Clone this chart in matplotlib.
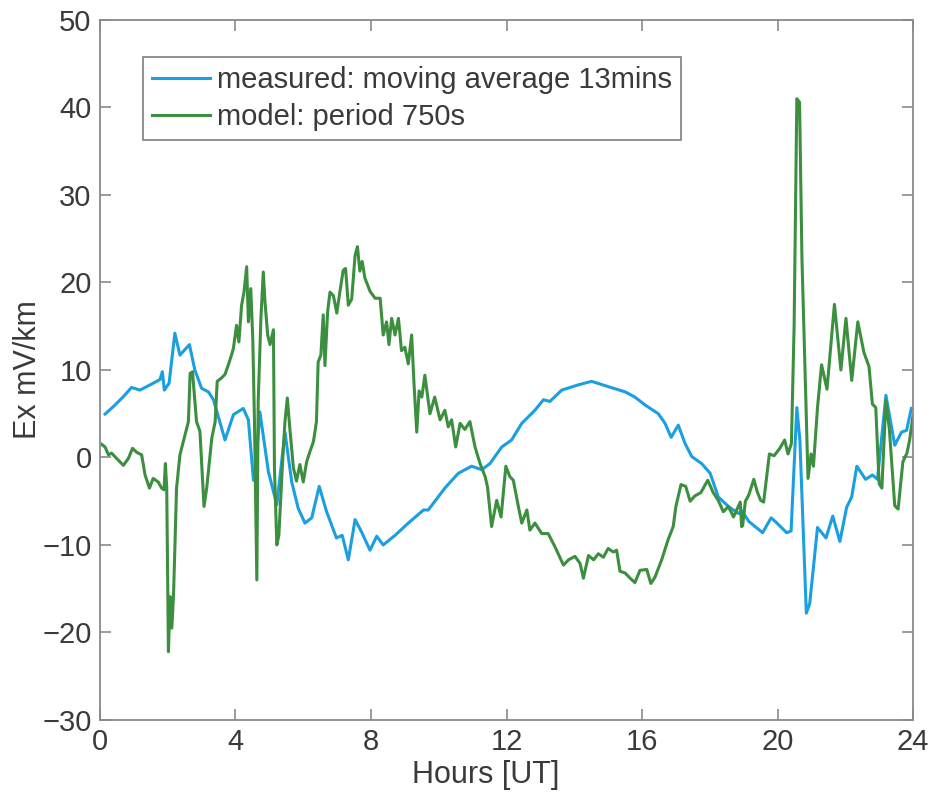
import matplotlib
matplotlib.use('Agg')
import matplotlib.pyplot as plt
import numpy as np

plt.rcParams['font.family'] = ['Liberation Sans', 'DejaVu Sans']

# measured field, moving average over 13 min
meas_hours = [0.15, 0.39, 0.69, 0.93, 1.18, 1.48, 1.77, 1.84, 1.90, 2.04,
              2.21, 2.36, 2.64, 2.80, 3.00, 3.20, 3.35, 3.69, 3.94, 4.23,
              4.38, 4.53, 4.60, 4.72, 4.97, 5.22, 5.46, 5.66, 5.85, 6.05,
              6.25, 6.47, 6.69, 6.98, 7.15, 7.33, 7.53, 7.72, 7.97, 8.17,
              8.36, 8.71, 9.10, 9.55, 9.69, 10.18, 10.58, 10.97, 11.27, 11.51,
              11.86, 12.15, 12.45, 12.84, 13.09, 13.28, 13.63, 14.12, 14.51, 15.00,
              15.50, 15.79, 16.09, 16.48, 16.68, 16.86, 17.07, 17.27, 17.47, 17.76,
              18.01, 18.25, 18.55, 18.84, 18.95, 19.15, 19.56, 19.81, 19.93, 20.27,
              20.40, 20.57, 20.66, 20.85, 20.95, 21.18, 21.43, 21.63, 21.84, 22.04,
              22.19, 22.34, 22.60, 22.80, 22.95, 23.20, 23.46, 23.66, 23.81, 23.95]
meas_ex = [4.96, 5.8, 6.95, 8.0, 7.7, 8.3, 8.9, 9.8, 7.7, 8.5,
           14.2, 11.7, 12.9, 10.0, 7.9, 7.5, 6.6, 2.0, 4.9, 5.6,
           4.3, -2.6, -1.0, 5.2, -1.6, -5.4, 2.9, -2.8, -5.8, -7.5,
           -6.9, -3.3, -6.2, -9.2, -8.9, -11.7, -7.1, -8.5, -10.6, -9.0,
           -10.0, -8.9, -7.5, -6.0, -6.0, -3.5, -1.8, -1.0, -1.4, -0.7,
           1.2, 2.0, 3.9, 5.4, 6.6, 6.4, 7.7, 8.3, 8.7, 8.1,
           7.5, 6.9, 6.0, 5.0, 3.9, 2.3, 3.7, 1.6, 0.1, -0.7,
           -1.8, -4.5, -5.6, -6.4, -6.1, -7.3, -8.6, -6.9, -7.3, -8.6,
           -8.4, 5.7, 2.0, -17.8, -16.7, -8.0, -9.2, -6.7, -9.6, -5.7,
           -4.5, -1.0, -2.5, -2.0, -2.5, 7.1, 1.4, 2.9, 3.1, 5.6]

# model field, period 750 s
model_hours = [0.05, 0.15, 0.25, 0.34, 0.49, 0.69, 0.84, 0.96, 1.08, 1.23,
               1.33, 1.46, 1.57, 1.72, 1.82, 1.89, 1.93, 1.97, 2.02, 2.07,
               2.12, 2.17, 2.26, 2.36, 2.51, 2.61, 2.66, 2.73, 2.85, 2.95,
               3.07, 3.15, 3.30, 3.40, 3.46, 3.59, 3.69, 3.79, 3.89, 3.94,
               4.03, 4.10, 4.18, 4.25, 4.33, 4.38, 4.45, 4.51, 4.56, 4.63,
               4.67, 4.75, 4.82, 4.87, 4.95, 5.02, 5.12, 5.15, 5.22, 5.28,
               5.38, 5.46, 5.53, 5.60, 5.71, 5.80, 5.90, 6.00, 6.10, 6.20,
               6.30, 6.39, 6.44, 6.52, 6.59, 6.64, 6.72, 6.79, 6.89, 6.99,
               7.08, 7.18, 7.25, 7.33, 7.43, 7.53, 7.60, 7.67, 7.74, 7.82,
               7.97, 8.12, 8.27, 8.36, 8.46, 8.53, 8.61, 8.71, 8.81, 8.90,
               9.00, 9.10, 9.20, 9.27, 9.35, 9.42, 9.50, 9.59, 9.74, 9.88,
               10.04, 10.18, 10.28, 10.38, 10.50, 10.63, 10.77, 10.92, 11.07, 11.22,
               11.37, 11.44, 11.56, 11.71, 11.84, 11.98, 12.10, 12.20, 12.35, 12.45,
               12.60, 12.69, 12.84, 13.04, 13.23, 13.43, 13.68, 13.83, 14.02, 14.17,
               14.27, 14.42, 14.57, 14.71, 14.86, 15.00, 15.15, 15.25, 15.35, 15.50,
               15.65, 15.79, 15.94, 16.14, 16.26, 16.38, 16.58, 16.77, 16.92, 17.00,
               17.15, 17.29, 17.42, 17.56, 17.74, 17.94, 18.10, 18.25, 18.40, 18.55,
               18.70, 18.84, 18.90, 18.94, 18.97, 19.05, 19.15, 19.30, 19.40, 19.50,
               19.59, 19.76, 19.90, 20.06, 20.21, 20.31, 20.41, 20.49, 20.57, 20.65,
               20.72, 20.83, 20.90, 20.99, 21.06, 21.18, 21.30, 21.46, 21.68, 21.87,
               22.02, 22.19, 22.37, 22.55, 22.70, 22.80, 22.90, 23.00, 23.08, 23.20,
               23.30, 23.46, 23.56, 23.70, 23.82, 23.90, 24.00]
model_ex = [1.5, 1.2, 0.3, 0.5, -0.1, -0.9, -0.1, 1.05, 0.6, 0.3,
            -2.0, -3.5, -2.4, -2.8, -3.5, -3.7, -0.7, -3.5, -22.2, -15.9,
            -19.5, -15.8, -3.5, 0.3, 2.6, 4.1, 9.6, 9.8, 4.1, 3.0,
            -5.6, -3.5, 2.2, 4.1, 8.7, 9.1, 9.5, 10.6, 11.8, 12.5,
            15.1, 13.2, 17.4, 18.9, 21.8, 15.5, 19.3, 13.6, 4.1, -14.0,
            6.4, 15.9, 21.2, 17.8, 14.0, 12.9, 14.6, -1.2, -10.0, -8.9,
            -1.2, 4.1, 6.8, 3.5, -1.2, -2.7, -0.8, -2.8, -0.5, 0.7,
            1.8, 4.1, 10.9, 11.7, 16.3, 10.5, 16.7, 18.9, 18.5, 16.5,
            18.9, 21.4, 21.6, 17.4, 18.1, 23.1, 24.1, 21.3, 22.4, 20.5,
            19.0, 18.2, 18.2, 14.0, 15.5, 12.9, 15.9, 14.0, 15.9, 12.2,
            12.6, 10.7, 14.0, 8.4, 2.9, 7.6, 6.9, 9.4, 5.0, 6.9,
            4.3, 5.4, 3.5, 4.3, 1.2, 3.9, 3.2, 4.1, 1.2, -0.7,
            -2.2, -3.4, -7.9, -4.9, -6.8, -1.0, -2.2, -2.6, -5.6, -7.5,
            -6.0, -8.3, -7.5, -8.7, -8.7, -10.2, -12.3, -11.7, -11.3, -12.1,
            -13.8, -11.2, -11.7, -11.0, -11.4, -10.4, -10.8, -10.6, -13.0, -13.2,
            -13.8, -14.3, -12.9, -12.8, -14.4, -13.7, -11.7, -9.4, -7.9, -5.6,
            -3.1, -3.3, -5.0, -4.4, -4.0, -2.6, -4.0, -4.9, -6.2, -5.6,
            -6.8, -5.6, -5.1, -7.9, -7.8, -5.0, -4.3, -2.5, -3.9, -4.9,
            -5.1, 0.4, 0.2, 1.0, 2.0, 0.4, 1.6, 15.1, 41.0, 40.6,
            22.9, 7.3, -2.4, 0.4, -1.0, 5.7, 10.6, 7.8, 17.5, 10.0,
            15.9, 8.8, 15.5, 12.0, 10.4, 6.1, 5.7, -3.0, -3.5, 6.5,
            3.3, -5.5, -5.9, -0.5, 0.5, 2.0, 4.8]

x_ticks = [0, 4, 8, 12, 16, 20, 24]
y_ticks = [-30, -20, -10, 0, 10, 20, 30, 40, 50]

text_col = '#3a3a3a'
axis_col = '#8a8a8a'

fig = plt.figure(figsize=(9.31, 7.93), dpi=100)
ax = fig.add_axes([0.1074, 0.0921, 0.8733, 0.8827])

ax.plot(meas_hours, meas_ex, color='#1a9fe0', lw=2.2,
        label='measured: moving average 13mins')
ax.plot(model_hours, model_ex, color='#3b8f3f', lw=2.2,
        label='model: period 750s')

ax.set_xlim(0, 24)
ax.set_ylim(-30, 50)
ax.set_xticks(x_ticks)
ax.set_yticks(y_ticks)
ax.tick_params(direction='in', length=8, width=1.2, colors=axis_col,
               labelcolor=text_col, labelsize=21, top=True, right=True,
               pad=6)
for sp in ax.spines.values():
    sp.set_color(axis_col)
    sp.set_linewidth(1.3)

ax.set_xlabel('Hours [UT]', fontsize=22, color=text_col, va='center')
ax.xaxis.set_label_coords(0.475, -0.079)
ax.set_ylabel('Ex mV/km', fontsize=22, color=text_col, va='center')
ax.yaxis.set_label_coords(-0.088, 0.5)

leg = ax.legend(loc='upper left', bbox_to_anchor=(0.053, 0.947),
                fontsize=21, frameon=True, fancybox=False,
                handlelength=2.0, handletextpad=0.25, borderpad=0.3,
                labelspacing=0.32, borderaxespad=0)
leg.get_frame().set_edgecolor('#6a6a6a')
leg.get_frame().set_linewidth(1.3)
for t in leg.get_texts():
    t.set_color(text_col)

fig.savefig('out.png', dpi=100)
